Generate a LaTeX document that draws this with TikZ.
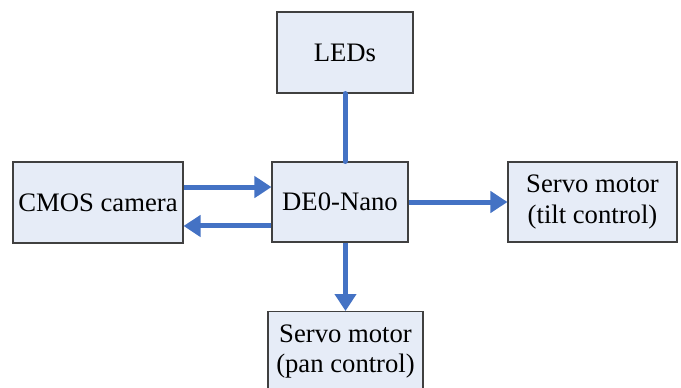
\documentclass[tikz,border=0pt]{standalone}
\usepackage{xcolor}
\usepackage{fontspec}
\setmainfont{Liberation Serif}
\usetikzlibrary{arrows.meta}
\definecolor{boxfill}{RGB}{230,236,247}
\definecolor{boxline}{RGB}{64,64,64}
\definecolor{linkblue}{RGB}{68,114,196}
\tikzset{
    block/.style={draw=boxline, fill=boxfill, line width=0.8pt, align=center,
        font=\fontsize{20}{23}\selectfont, inner sep=0pt},
    link/.style={draw=linkblue, line width=3.75pt, line cap=round},
    linkarrow/.style={link, line cap=butt, -{Triangle[length=12.75pt,width=15.75pt]}}
}

\begin{document}
\begin{tikzpicture}[x=0.75pt, y=-0.75pt]
            \useasboundingbox (0,0) rectangle (681,387);
            \begin{scope}
            \clip (0,0) rectangle (681,387);
            \node[block, minimum width=102pt, minimum height=60.75pt] (leds) at (345,52.5) {LEDs};
            \node[block, minimum width=127.5pt, minimum height=60.75pt] (camera) at (98,202.5) {CMOS camera};
            \node[block, minimum width=102pt, minimum height=60pt] (nano) at (340,202) {DE0-Nano};
            \node[block, minimum width=126.75pt, minimum height=60pt] (tilt) at (592.5,202) {Servo motor\\(tilt control)};
            \node[block, minimum width=116.25pt, minimum height=60pt, anchor=north] (pan) at (345.5,311) {Servo motor\\(pan control)};
            \end{scope}

            \draw[link] (leds.south) -- (leds.south |- nano.north);
            \draw[linkarrow] ([yshift=11.6pt]camera.east) -- ([yshift=11.6pt]camera.east -| nano.west);
            \draw[linkarrow] ([yshift=-17.6pt]camera.east -| nano.west) -- ([yshift=-17.6pt]camera.east);
            \draw[linkarrow] (nano.east) -- (tilt.west);
            \draw[linkarrow] (pan.north |- nano.south) -- (pan.north);
         \end{tikzpicture}
\end{document}
